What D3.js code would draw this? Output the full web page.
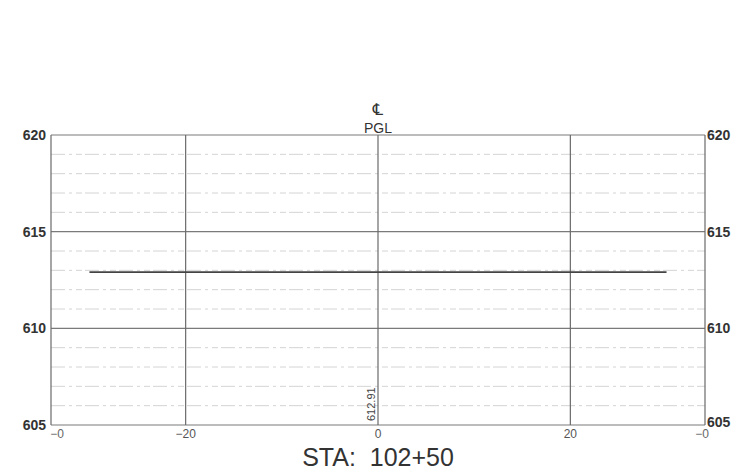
<!DOCTYPE html>
<html>
<head>
<meta charset="utf-8">
<script src="https://cdn.jsdelivr.net/npm/d3@7"></script>
<style>
  html, body { margin: 0; padding: 0; background: #fff; }
  svg { display: block; }
</style>
</head>
<body>
<svg id="chart" width="736" height="474"></svg>
<script>
// section data
const offsets = [-30, 30];
const elevations = [612.91, 612.91];
const centerElev = 612.91;
const station = "STA:  102+50";

const xDomain = [-34, 34];
const yDomain = [605, 620];
const xMajor = [-20, 0, 20];
const yMajor = [605, 610, 615, 620];
const yMinor = d3.range(606, 620).filter(v => v % 5 !== 0);
const xTickLabels = ["−20", "0", "20"];
const yTickLabels = ["605", "610", "615", "620"];

function main() {
  const svg = d3.select("#chart");
  const x = d3.scaleLinear().domain(xDomain).range([51, 705]);
  const y = d3.scaleLinear().domain(yDomain).range([425, 135]);

  drawGrid(svg, x, y);
  drawLabels(svg, x, y);
  drawProfile(svg, x, y);
}

function drawGrid(svg, x, y) {
  const g = svg.append("g");

  // light dashed minor lines
  g.selectAll("line.minor")
    .data(yMinor)
    .join("line")
    .attr("class", "minor")
    .attr("x1", x(xDomain[0]))
    .attr("x2", x(xDomain[1]))
    .attr("y1", d => y(d))
    .attr("y2", d => y(d))
    .attr("stroke", "#d4d4d4")
    .attr("stroke-width", 1)
    .attr("stroke-dasharray", "14,4,3,4,6,3");

  g.selectAll("line.hmajor")
    .data(yMajor)
    .join("line")
    .attr("class", "hmajor")
    .attr("x1", x(xDomain[0]))
    .attr("x2", x(xDomain[1]))
    .attr("y1", d => y(d))
    .attr("y2", d => y(d))
    .attr("stroke", "#7a7a7a")
    .attr("stroke-width", 1.2);

  g.selectAll("line.vmajor")
    .data(xMajor.concat(xDomain))
    .join("line")
    .attr("class", "vmajor")
    .attr("x1", d => x(d))
    .attr("x2", d => x(d))
    .attr("y1", y(yDomain[0]))
    .attr("y2", y(yDomain[1]))
    .attr("stroke", "#6a6a6a")
    .attr("stroke-width", 1.2);
}

function drawLabels(svg, x, y) {
  const font = "'Liberation Sans', Arial, sans-serif";

  // elevation labels on both sides
  [["end", 46], ["start", 707]].forEach(([anchor, px]) => {
    svg.append("g")
      .selectAll("text")
      .data(yMajor)
      .join("text")
      .attr("x", px)
      .attr("y", (d, i) => y(d) + (anchor === "start" && i === 0 ? -3 : 0))
      .attr("dy", "0.35em")
      .attr("text-anchor", anchor)
      .attr("font-family", font)
      .attr("font-weight", "bold")
      .attr("font-size", 14)
      .attr("fill", "#333")
      .text((d, i) => yTickLabels[i]);
  });

  // offset labels
  svg.append("g")
    .selectAll("text")
    .data(xMajor)
    .join("text")
    .attr("x", d => x(d))
    .attr("y", 438)
    .attr("text-anchor", "middle")
    .attr("font-family", font)
    .attr("font-size", 12)
    .attr("fill", "#555")
    .text((d, i) => xTickLabels[i]);

  // edge labels, mostly hidden behind the frame
  svg.append("g")
    .selectAll("text")
    .data(xDomain)
    .join("text")
    .attr("x", d => x(d) + (d < 0 ? 6 : -3))
    .attr("y", 438)
    .attr("text-anchor", "middle")
    .attr("font-family", font)
    .attr("font-size", 12)
    .attr("fill", "#666")
    .text("−0");

  // centerline marker
  svg.append("text")
    .attr("x", x(0))
    .attr("y", 115)
    .attr("text-anchor", "middle")
    .attr("font-family", "'DejaVu Sans', sans-serif")
    .attr("font-size", 16)
    .attr("fill", "#333")
    .text("℄");

  svg.append("text")
    .attr("x", x(0))
    .attr("y", 133)
    .attr("text-anchor", "middle")
    .attr("font-family", font)
    .attr("font-size", 14)
    .attr("fill", "#333")
    .text("PGL");

  // centerline elevation, rotated
  svg.append("text")
    .attr("transform", `translate(${x(0) - 3},${y(yDomain[0]) - 4}) rotate(-90)`)
    .attr("font-family", font)
    .attr("font-size", 11)
    .attr("fill", "#444")
    .text(centerElev.toFixed(2));

  svg.append("text")
    .attr("x", x(0))
    .attr("y", 466)
    .attr("text-anchor", "middle")
    .attr("font-family", font)
    .attr("font-size", 25)
    .attr("fill", "#333")
    .style("white-space", "pre")
    .text(station);
}

function drawProfile(svg, x, y) {
  const pts = offsets.map((d, i) => [d, elevations[i]]);
  const line = d3.line().x(d => x(d[0])).y(d => y(d[1]));
  svg.append("path")
    .datum(pts)
    .attr("d", line)
    .attr("fill", "none")
    .attr("stroke", "#444")
    .attr("stroke-width", 1.8);
}

main();
</script>
</body>
</html>
